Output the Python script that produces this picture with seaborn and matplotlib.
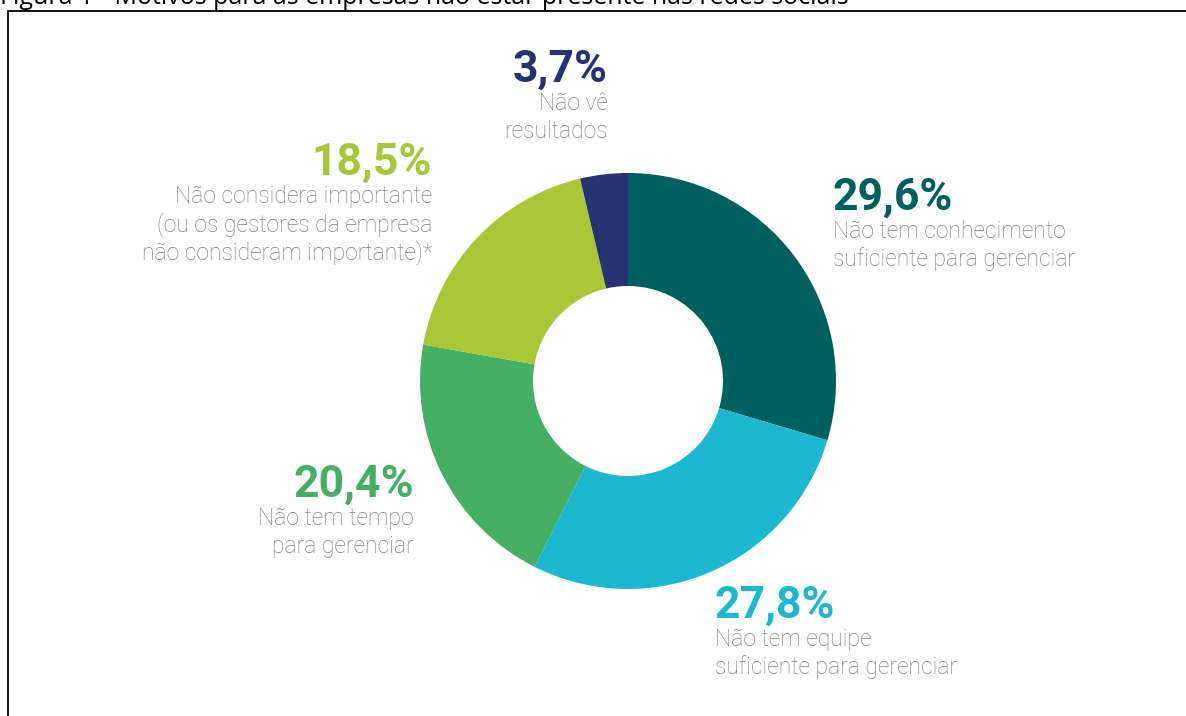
import matplotlib
matplotlib.use("Agg")
import matplotlib.pyplot as plt
import seaborn as sns

# dados do gráfico (sentido horário a partir do topo)
valores = [29.6, 27.8, 20.4, 18.5, 3.7]
rotulos_pct = ["29,6%", "27,8%", "20,4%", "18,5%", "3,7%"]
descricoes = [
    ["Não tem conhecimento", "suficiente para gerenciar"],
    ["Não tem equipe", "suficiente para gerenciar"],
    ["Não tem tempo", "para gerenciar"],
    ["Não considera importante", "(ou os gestores da empresa",
     "não consideram importante)*"],
    ["Não vê", "resultados"],
]
cores = ["#00605f", "#1db8d0", "#45af64", "#a9c637", "#263373"]
titulo = "Figura 1 - Motivos para as empresas não estar presente nas redes sociais"

sns.set_theme(style="white")
plt.rcParams["font.family"] = ["Roboto", "DejaVu Sans"]

W, H = 1186, 716
fig = plt.figure(figsize=(W / 100, H / 100), dpi=100)
ax = fig.add_axes([0, 0, 1, 1])

paleta = sns.color_palette(cores)
ax.pie(valores, colors=paleta, startangle=90, counterclock=False,
       radius=208, center=(628, H - 381),
       wedgeprops=dict(width=113, edgecolor="none"))
ax.set_xlim(0, W)
ax.set_ylim(0, H)
ax.set_aspect("equal")
ax.axis("off")

# posições dos rótulos (x, baseline do percentual, alinhamento)
pos = [(833, 210, "left"), (715, 618, "left"), (414, 497, "right"),
       (432, 175, "right"), (608, 82, "right")]
for (x, yb, ha), pct, linhas, cor in zip(pos, rotulos_pct, descricoes, cores):
    ax.text(x, H - yb, pct, ha=ha, va="baseline", fontsize=32,
            fontweight="bold", color=cor)
    for i, linha in enumerate(linhas):
        ax.text(x, H - yb - 28 - 28 * i, linha, ha=ha, va="baseline",
                fontsize=16.5, fontweight="light", color="#808080")

# moldura e título cortado
ax.plot([8, 8, W], [0, H - 11, H - 11], color="black", lw=1.3,
        solid_joinstyle="miter")
ax.text(0, H - 4, titulo, ha="left", va="baseline", fontsize=18,
        family="Open Sans", color="black")

fig.savefig("out.png", dpi=100)
